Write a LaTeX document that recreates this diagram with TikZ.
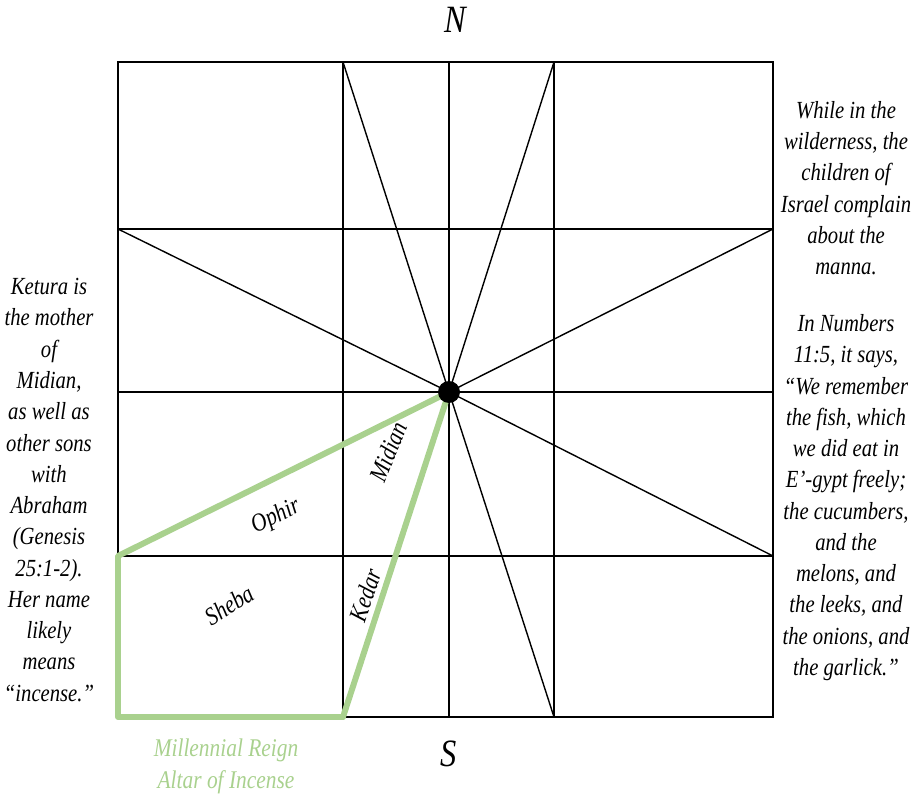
\documentclass[tikz,border=0pt]{standalone}
\usepackage{fontspec}
\setmainfont{Liberation Serif}[FakeStretch=0.84]
\definecolor{incense}{RGB}{169,209,142}
\tikzset{
  note/.style={font=\itshape\fontsize{14}{17.8}\selectfont, align=center, inner sep=0pt},
  tag/.style={font=\itshape\fontsize{14.5}{16}\selectfont, inner sep=1pt},
  thin line/.style={line width=0.8pt},
  altar/.style={incense, line width=3.4pt}
}
\begin{document}
\begin{tikzpicture}[x=0.02cm, y=-0.02cm]
    \useasboundingbox (0,0) rectangle (923,797);

    % Edge points
    \coordinate (tl) at (118,62);   \coordinate (tr) at (773,62);
    \coordinate (bl) at (118,717);  \coordinate (br) at (773,717);
    \coordinate (t1) at (343,62);   \coordinate (t2) at (449,62);   \coordinate (t3) at (554,62);
    \coordinate (b1) at (343,717);  \coordinate (b2) at (449,717);  \coordinate (b3) at (554,717);
    \coordinate (l1) at (118,229);  \coordinate (l2) at (118,392);  \coordinate (l3) at (118,556);
    \coordinate (r1) at (773,229);  \coordinate (r2) at (773,392);  \coordinate (r3) at (773,556);

    % Grid
    \draw[thin line] (t1) -- (b1);
    \draw[thin line] (t2) -- (b2);
    \draw[thin line] (t3) -- (b3);
    \draw[thin line] (l1) -- (r1);
    \draw[thin line] (l2) -- (r2);
    \draw[thin line] (l3) -- (r3);

    % Centre point
    \node[circle, minimum size=0.44cm, inner sep=0pt] (c) at (449,392) {};

    % Rays from the centre
    \foreach \p in {t1,t3,r1,r3,b3,l1}
      \draw[thin line] (c.center) -- (\p);

    % Outer square
    \draw[line width=1.6pt] (tl) rectangle (br);

    % Altar outline
    \draw[altar, line join=round] (c.center) -- (l3) -- (bl) -- (b1) -- cycle;
    \fill (c.center) circle[radius=0.22cm];

    % Labels on the altar
    \node[tag, rotate=26] (ophir) at (276,517) {Ophir};
    \node[tag, rotate=68] (midian) at (388,452) {Midian};
    \node[tag, rotate=71] (kedar) at (365,595) {Kedar};
    \node[tag, rotate=32] (sheba) at (229,605) {Sheba};

    % Compass labels
    \node[font=\itshape\fontsize{22}{24}\selectfont] (north) at (455,20) {N};
    \node[font=\itshape\fontsize{22}{24}\selectfont] (south) at (449,754) {S};

    % Caption
    \node[note, text=incense, font=\itshape\fontsize{14.5}{18.2}\selectfont] (caption) at (226,766) {Millennial Reign\\Altar of Incense};

    % Side notes
    \node[note] (ketura) at (49,490) {Ketura is\\the mother\\of\\Midian,\\as well as\\other sons\\with\\Abraham\\(Genesis\\25:1-2).\\Her name\\likely\\means\\``incense.''};
    \node[note] (manna) at (846,391) {While in the\\wilderness, the\\children of\\Israel complain\\about the\\manna.\\[14.5pt]In Numbers\\11:5, it says,\\``We remember\\the fish, which\\we did eat in\\E'-gypt freely;\\the cucumbers,\\and the\\melons, and\\the leeks, and\\the onions, and\\the garlick.''};
\end{tikzpicture}
\end{document}
